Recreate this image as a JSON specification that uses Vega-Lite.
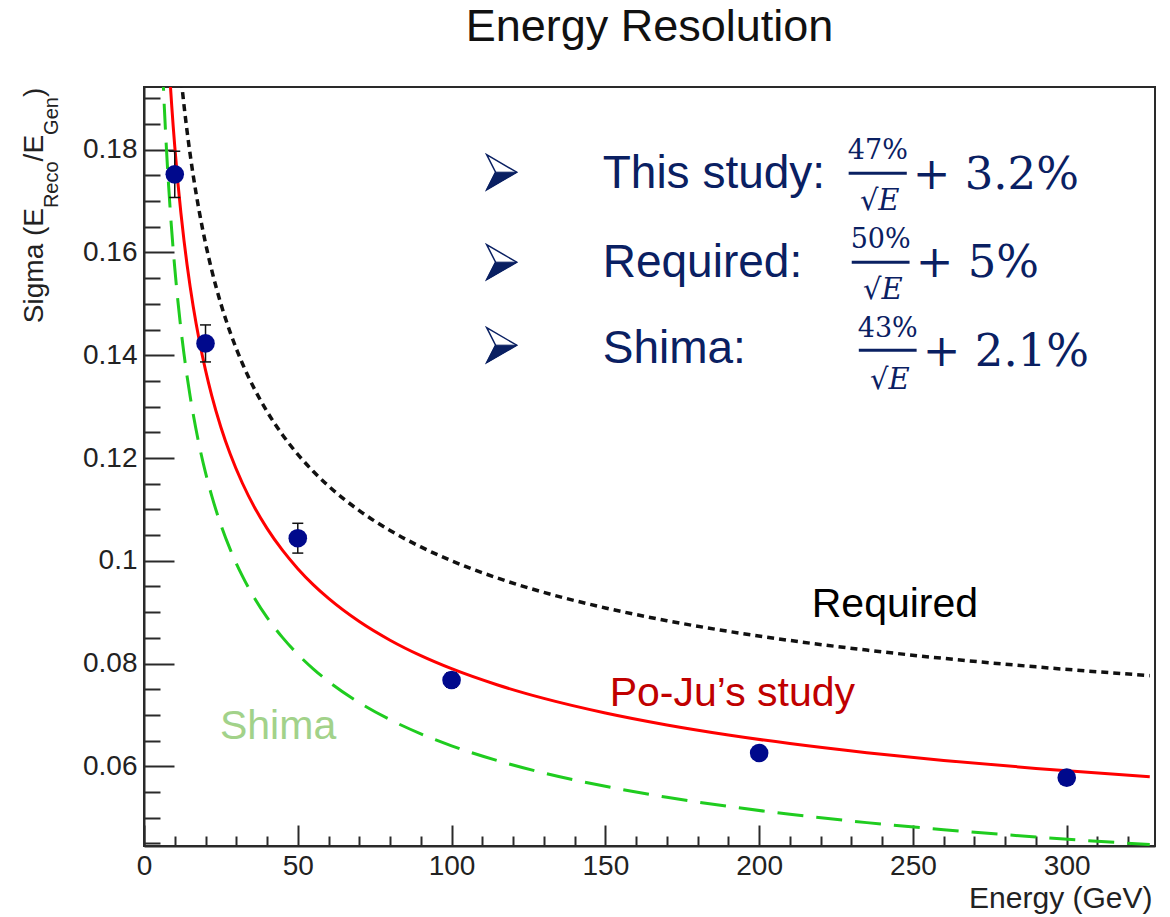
{
  "$schema": "https://vega.github.io/schema/vega-lite/v6.json",
  "width": 1011,
  "height": 759,
  "autosize": {"type": "none"},
  "padding": {"left": 144, "top": 87, "right": 15, "bottom": 71},
  "background": "white",
  "title": {
    "text": "Energy Resolution",
    "font": "Liberation Sans",
    "fontSize": 45,
    "fontWeight": "normal",
    "color": "#111111",
    "anchor": "middle",
    "baseline": "alphabetic",
    "offset": -2
  },
  "config": {
    "view": {"stroke": "#2a2a2a", "strokeWidth": 2},
    "font": "Liberation Sans",
    "axis": {"grid": false}
  },
  "datasets": {
    "curves": [
      {"E": 6, "fit": 0.22388, "req": 0.25412, "shima": 0.19655},
      {"E": 6.5, "fit": 0.21635, "req": 0.24612, "shima": 0.18966},
      {"E": 7, "fit": 0.20964, "req": 0.23898, "shima": 0.18353},
      {"E": 7.5, "fit": 0.20362, "req": 0.23257, "shima": 0.17801},
      {"E": 8, "fit": 0.19817, "req": 0.22678, "shima": 0.17303},
      {"E": 8.5, "fit": 0.19321, "req": 0.2215, "shima": 0.16849},
      {"E": 9, "fit": 0.18867, "req": 0.21667, "shima": 0.16433},
      {"E": 9.5, "fit": 0.18449, "req": 0.21222, "shima": 0.16051},
      {"E": 10, "fit": 0.18063, "req": 0.20811, "shima": 0.15698},
      {"E": 11, "fit": 0.17371, "req": 0.20076, "shima": 0.15065},
      {"E": 12, "fit": 0.16768, "req": 0.19434, "shima": 0.14513},
      {"E": 13, "fit": 0.16235, "req": 0.18868, "shima": 0.14026},
      {"E": 14, "fit": 0.15761, "req": 0.18363, "shima": 0.13592},
      {"E": 15, "fit": 0.15335, "req": 0.1791, "shima": 0.13203},
      {"E": 16, "fit": 0.1495, "req": 0.175, "shima": 0.1285},
      {"E": 18, "fit": 0.14278, "req": 0.16785, "shima": 0.12235},
      {"E": 20, "fit": 0.1371, "req": 0.1618, "shima": 0.11715},
      {"E": 22, "fit": 0.1322, "req": 0.1566, "shima": 0.11268},
      {"E": 25, "fit": 0.126, "req": 0.15, "shima": 0.107},
      {"E": 28, "fit": 0.12082, "req": 0.14449, "shima": 0.10226},
      {"E": 32, "fit": 0.11509, "req": 0.13839, "shima": 0.09701},
      {"E": 36, "fit": 0.11033, "req": 0.13333, "shima": 0.09267},
      {"E": 40, "fit": 0.10631, "req": 0.12906, "shima": 0.08899},
      {"E": 45, "fit": 0.10206, "req": 0.12454, "shima": 0.0851},
      {"E": 50, "fit": 0.09847, "req": 0.12071, "shima": 0.08181},
      {"E": 55, "fit": 0.09537, "req": 0.11742, "shima": 0.07898},
      {"E": 60, "fit": 0.09268, "req": 0.11455, "shima": 0.07651},
      {"E": 70, "fit": 0.08818, "req": 0.10976, "shima": 0.0724},
      {"E": 80, "fit": 0.08455, "req": 0.1059, "shima": 0.06908},
      {"E": 90, "fit": 0.08154, "req": 0.1027, "shima": 0.06633},
      {"E": 100, "fit": 0.079, "req": 0.1, "shima": 0.064},
      {"E": 115, "fit": 0.07583, "req": 0.09663, "shima": 0.0611},
      {"E": 130, "fit": 0.07322, "req": 0.09385, "shima": 0.05871},
      {"E": 150, "fit": 0.07038, "req": 0.09083, "shima": 0.05611},
      {"E": 170, "fit": 0.06805, "req": 0.08835, "shima": 0.05398},
      {"E": 190, "fit": 0.0661, "req": 0.08627, "shima": 0.0522},
      {"E": 210, "fit": 0.06443, "req": 0.0845, "shima": 0.05067},
      {"E": 235, "fit": 0.06266, "req": 0.08262, "shima": 0.04905},
      {"E": 260, "fit": 0.06115, "req": 0.08101, "shima": 0.04767},
      {"E": 290, "fit": 0.0596, "req": 0.07936, "shima": 0.04625},
      {"E": 327, "fit": 0.05799, "req": 0.07765, "shima": 0.04478}
    ],
    "points": [
      {"E": 10, "mean": 0.1752, "lo": 0.1707, "hi": 0.1797},
      {"E": 20, "mean": 0.1423, "lo": 0.1387, "hi": 0.1459},
      {"E": 50, "mean": 0.1044, "lo": 0.1015, "hi": 0.1073},
      {"E": 100, "mean": 0.0768, "lo": 0.0754, "hi": 0.0782},
      {"E": 200, "mean": 0.0626, "lo": 0.0615, "hi": 0.0637},
      {"E": 300, "mean": 0.0578, "lo": 0.0568, "hi": 0.0588}
    ],
    "notes": [
      {"role": "ymain", "E": -32.94, "sigma": 0.146245, "text": "Sigma (E"},
      {"role": "ysub", "E": -28.06, "sigma": 0.168638, "text": "Reco"},
      {"role": "ymain", "E": -32.94, "sigma": 0.177724, "text": "/E"},
      {"role": "ysub", "E": -28.06, "sigma": 0.182879, "text": "Gen"},
      {"role": "ymain", "E": -32.94, "sigma": 0.190233, "text": ")"},
      {"role": "row", "E": 149.14, "sigma": 0.17251, "text": "This study:"},
      {"role": "row", "E": 149.14, "sigma": 0.15519, "text": "Required:"},
      {"role": "row", "E": 149.14, "sigma": 0.13846, "text": "Shima:"},
      {"role": "num", "E": 238.6, "sigma": 0.17815, "text": "47%"},
      {"role": "num", "E": 239.5, "sigma": 0.16084, "text": "50%"},
      {"role": "num", "E": 241.8, "sigma": 0.14352, "text": "43%"},
      {"role": "den", "E": 239.2, "sigma": 0.16823, "text": "√E"},
      {"role": "den", "E": 240.2, "sigma": 0.15091, "text": "√E"},
      {"role": "den", "E": 242.5, "sigma": 0.1334, "text": "√E"},
      {"role": "plus", "E": 249.9, "sigma": 0.17232, "text": "+ 3.2%"},
      {"role": "plus", "E": 250.9, "sigma": 0.15519, "text": "+ 5%"},
      {"role": "plus", "E": 253.2, "sigma": 0.13788, "text": "+ 2.1%"},
      {"role": "lab_req", "E": 217.1, "sigma": 0.08905, "text": "Required"},
      {"role": "lab_fit", "E": 151.4, "sigma": 0.07173, "text": "Po-Ju’s study"},
      {"role": "lab_shima", "E": 24.7, "sigma": 0.06531, "text": "Shima"}
    ],
    "bullets": [
      {"E": 116.3, "sigma": 0.17562},
      {"E": 116.3, "sigma": 0.15811},
      {"E": 116.3, "sigma": 0.14196}
    ],
    "bars": [
      {"E": 229.1, "E2": 248.0, "sigma": 0.17543},
      {"E": 230.1, "E2": 248.9, "sigma": 0.15811},
      {"E": 232.4, "E2": 251.2, "sigma": 0.14099}
    ]
  },
  "encoding": {
    "x": {
      "field": "E", "type": "quantitative",
      "scale": {"domain": [0, 328.7], "nice": false, "zero": false},
      "axis": {
        "title": "Energy (GeV)",
        "titleFont": "Liberation Sans", "titleFontSize": 30, "titleFontWeight": "normal", "titleColor": "#222222",
        "titleAlign": "right", "titleAnchor": "end", "titleBaseline": "alphabetic",
        "titleX": 1008, "titleY": 61,
        "values": [0, 10, 20, 30, 40, 50, 60, 70, 80, 90, 100, 110, 120, 130, 140, 150, 160, 170, 180, 190, 200, 210, 220, 230, 240, 250, 260, 270, 280, 290, 300, 310, 320],
        "labelExpr": "datum.value % 50 === 0 ? datum.label : ''",
        "tickSize": {"condition": {"test": "datum.value % 50 === 0", "value": -21}, "value": -10},
        "tickColor": "#2a2a2a", "tickWidth": 2,
        "domainColor": "#2a2a2a", "domainWidth": 2,
        "labelFont": "Liberation Sans", "labelFontSize": 28, "labelColor": "#222222",
        "labelPadding": 27, "labelOverlap": false, "labelFlush": false, "labelBound": false,
        "grid": false
      }
    },
    "y": {
      "field": "sigma", "type": "quantitative",
      "scale": {"domain": [0.0445, 0.1922], "nice": false, "zero": false},
      "axis": {
        "title": null,
        "values": [0.045, 0.05, 0.055, 0.06, 0.065, 0.07, 0.075, 0.08, 0.085, 0.09, 0.095, 0.1, 0.105, 0.11, 0.115, 0.12, 0.125, 0.13, 0.135, 0.14, 0.145, 0.15, 0.155, 0.16, 0.165, 0.17, 0.175, 0.18, 0.185, 0.19],
        "labelExpr": "abs(datum.value * 50 - round(datum.value * 50)) < 0.001 ? format(datum.value, '~g') : ''",
        "tickSize": {"condition": {"test": "abs(datum.value * 50 - round(datum.value * 50)) < 0.001", "value": -30}, "value": -16},
        "tickColor": "#2a2a2a", "tickWidth": 2,
        "domainColor": "#2a2a2a", "domainWidth": 2,
        "labelFont": "Liberation Sans", "labelFontSize": 28, "labelColor": "#222222",
        "labelPadding": 37, "labelOverlap": false, "labelFlush": false, "labelBound": false,
        "grid": false
      }
    }
  },
  "layer": [
    {
      "data": {"name": "curves"},
      "transform": [{"fold": ["shima"], "as": ["curve", "sigma"]}],
      "mark": {"type": "line", "clip": true, "interpolate": "monotone", "color": "#1fcc1f", "strokeWidth": 3, "strokeDash": [26, 13]}
    },
    {
      "data": {"name": "curves"},
      "transform": [{"fold": ["req"], "as": ["curve", "sigma"]}],
      "mark": {"type": "line", "clip": true, "interpolate": "monotone", "color": "#111111", "strokeWidth": 3.5, "strokeDash": [7, 5]}
    },
    {
      "data": {"name": "curves"},
      "transform": [{"fold": ["fit"], "as": ["curve", "sigma"]}],
      "mark": {"type": "line", "clip": true, "interpolate": "monotone", "color": "#ff0000", "strokeWidth": 3}
    },
    {
      "data": {"name": "points"},
      "transform": [{"fold": ["lo"], "as": ["edge", "sigma"]}],
      "mark": {"type": "rule", "color": "#111111", "strokeWidth": 1.5},
      "encoding": {"y2": {"field": "hi"}}
    },
    {
      "data": {"name": "points"},
      "transform": [{"fold": ["lo", "hi"], "as": ["edge", "sigma"]}],
      "mark": {"type": "tick", "orient": "horizontal", "size": 11, "thickness": 1.5, "color": "#111111", "opacity": 1}
    },
    {
      "data": {"name": "points"},
      "transform": [{"fold": ["mean"], "as": ["stat", "sigma"]}],
      "mark": {"type": "circle", "size": 346, "color": "#00098c", "opacity": 1}
    },
    {
      "data": {"name": "bars"},
      "mark": {"type": "rule", "color": "#0a2062", "strokeWidth": 3},
      "encoding": {"x2": {"field": "E2"}}
    },
    {
      "data": {"name": "bullets"},
      "mark": {"type": "point", "shape": "M -0.86 -1 L 0.86 0 L -0.86 1 L -0.35 0 Z", "size": 1225, "filled": true, "fill": "white", "stroke": "#0a2062", "strokeWidth": 1.5, "opacity": 1}
    },
    {
      "data": {"name": "bullets"},
      "mark": {"type": "point", "shape": "M -0.35 0 L 0.86 0 L -0.86 1 Z", "size": 1225, "filled": true, "fill": "#0a2062", "stroke": "#0a2062", "strokeWidth": 1, "opacity": 1}
    },
    {
      "data": {"name": "notes"},
      "transform": [{"filter": "datum.role === 'ymain'"}],
      "mark": {"type": "text", "angle": 270, "align": "left", "baseline": "alphabetic", "font": "Liberation Sans", "fontSize": 28, "color": "#222222"},
      "encoding": {"text": {"field": "text"}}
    },
    {
      "data": {"name": "notes"},
      "transform": [{"filter": "datum.role === 'ysub'"}],
      "mark": {"type": "text", "angle": 270, "align": "left", "baseline": "alphabetic", "font": "Liberation Sans", "fontSize": 20, "color": "#222222"},
      "encoding": {"text": {"field": "text"}}
    },
    {
      "data": {"name": "notes"},
      "transform": [{"filter": "datum.role === 'row'"}],
      "mark": {"type": "text", "align": "left", "baseline": "alphabetic", "font": "Liberation Sans", "fontSize": 46, "color": "#0a2062"},
      "encoding": {"text": {"field": "text"}}
    },
    {
      "data": {"name": "notes"},
      "transform": [{"filter": "datum.role === 'num'"}],
      "mark": {"type": "text", "align": "center", "baseline": "alphabetic", "font": "DejaVu Serif", "fontSize": 27, "color": "#0a2062"},
      "encoding": {"text": {"field": "text"}}
    },
    {
      "data": {"name": "notes"},
      "transform": [{"filter": "datum.role === 'den'"}],
      "mark": {"type": "text", "align": "center", "baseline": "alphabetic", "font": "DejaVu Serif", "fontStyle": "italic", "fontSize": 29, "color": "#0a2062"},
      "encoding": {"text": {"field": "text"}}
    },
    {
      "data": {"name": "notes"},
      "transform": [{"filter": "datum.role === 'plus'"}],
      "mark": {"type": "text", "align": "left", "baseline": "alphabetic", "font": "DejaVu Serif", "fontSize": 45, "color": "#0a2062"},
      "encoding": {"text": {"field": "text"}}
    },
    {
      "data": {"name": "notes"},
      "transform": [{"filter": "datum.role === 'lab_req'"}],
      "mark": {"type": "text", "align": "left", "baseline": "alphabetic", "font": "Liberation Sans", "fontSize": 41, "color": "#000000"},
      "encoding": {"text": {"field": "text"}}
    },
    {
      "data": {"name": "notes"},
      "transform": [{"filter": "datum.role === 'lab_fit'"}],
      "mark": {"type": "text", "align": "left", "baseline": "alphabetic", "font": "Liberation Sans", "fontSize": 41, "color": "#c00000"},
      "encoding": {"text": {"field": "text"}}
    },
    {
      "data": {"name": "notes"},
      "transform": [{"filter": "datum.role === 'lab_shima'"}],
      "mark": {"type": "text", "align": "left", "baseline": "alphabetic", "font": "Liberation Sans", "fontSize": 41, "color": "#a2d28a"},
      "encoding": {"text": {"field": "text"}}
    }
  ]
}
